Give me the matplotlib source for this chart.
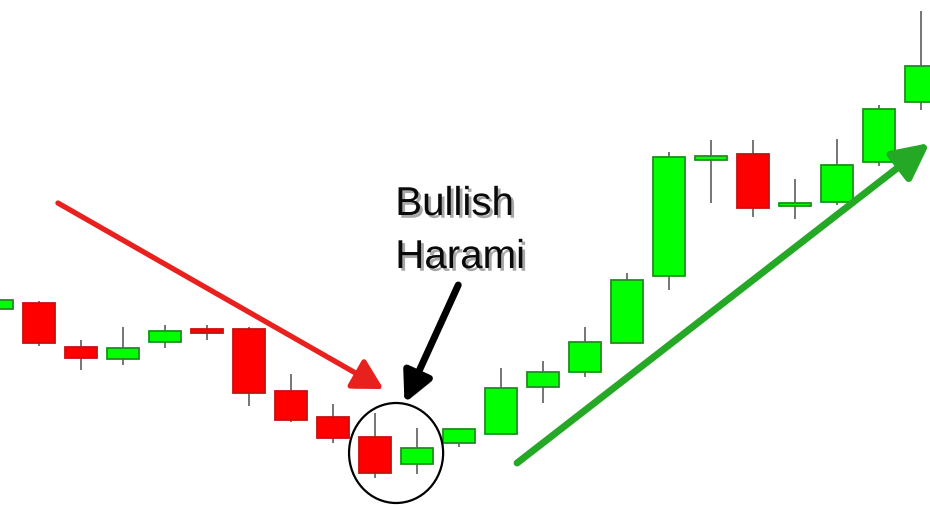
"""
Bullish harami candlestick sketch
"""
import matplotlib
matplotlib.use("Agg")
import matplotlib.pyplot as plt
import matplotlib.patheffects as pe
from matplotlib.patches import Ellipse

# one candle per session, prices in arbitrary units
opens = [19.6, 20.2, 15.8, 14.6, 16.3, 17.6, 17.6, 11.4, 8.8, 6.8, 4.1, 6.2,
         7.1, 11.8, 13.3, 16.2, 22.9, 34.5, 35.1, 29.9, 30.3, 34.3, 40.3]
highs = [20.5, 20.4, 16.5, 17.8, 18.0, 18.0, 17.8, 13.1, 10.1, 9.2, 7.7, 7.6,
         13.7, 14.4, 17.8, 23.2, 35.3, 36.5, 36.5, 32.6, 36.6, 40.0, 49.4]
lows = [19.6, 15.9, 13.5, 14.0, 15.7, 16.5, 9.9, 8.3, 6.2, 2.7, 3.1, 5.8,
        7.1, 10.2, 12.8, 16.2, 21.5, 30.2, 28.8, 28.6, 30.0, 33.9, 39.5]
closes = [20.5, 16.2, 14.7, 15.7, 17.4, 17.2, 11.2, 8.5, 6.7, 3.2, 5.7, 7.6,
          11.7, 13.3, 16.3, 22.5, 34.8, 34.9, 29.7, 30.2, 34.0, 39.6, 43.9]
label = "Bullish\nHarami"
harami = [9, 10]

fig = plt.figure(figsize=(9.3, 5.05), dpi=100)
ax = fig.add_axes([0, 0, 1, 1])
ax.set_xlim(0.071, 22.21)
ax.set_ylim(0, 50.5)
ax.axis("off")

x = list(range(len(opens)))
up = [c >= o for o, c in zip(opens, closes)]
face = ["#00ff00" if u else "#ff0000" for u in up]
edge = ["#1f8f1f" if u else "#c81010" for u in up]
bottoms = [min(o, c) for o, c in zip(opens, closes)]
heights = [max(abs(c - o), 0.35) for o, c in zip(opens, closes)]

ax.vlines(x, lows, highs, color="#6a6a6a", lw=1.3, zorder=1)
ax.bar(x, heights, bottom=bottoms, width=0.76, color=face, edgecolor=edge,
       linewidth=1.3, zorder=2)

# circle round the harami pair
cx = (harami[0] + harami[1]) / 2
ax.add_patch(Ellipse((cx, 5.2), 2.24, 10.0, fill=False, ec="black", lw=1.6,
                     zorder=3))

shadow = [pe.SimplePatchShadow(offset=(2, -2), alpha=0.3), pe.Normal()]

def arrow(start, end, color, lw, hl, hw):
    ax.annotate("", xy=end, xytext=start, zorder=4,
                arrowprops=dict(arrowstyle=f"-|>,head_length={hl},head_width={hw}",
                                mutation_scale=20, color=color, lw=lw,
                                shrinkA=0, shrinkB=0, path_effects=shadow))

arrow((1.45, 30.2), (9.2, 11.6), "#e8201e", 3.8, 0.9, 0.5)
arrow((10.98, 22.0), (9.7, 10.2), "black", 5.0, 0.9, 0.45)
arrow((12.38, 4.2), (22.2, 36.2), "#25a825", 5.0, 1.1, 0.55)

ax.text(9.48, 23.7, label, ha="left", va="baseline", fontsize=29,
        family="Liberation Sans", color="#0a0a0a", linespacing=1.5,
        path_effects=[pe.withSimplePatchShadow(offset=(2, -2), alpha=0.35)])

fig.savefig("out.png", dpi=100)
